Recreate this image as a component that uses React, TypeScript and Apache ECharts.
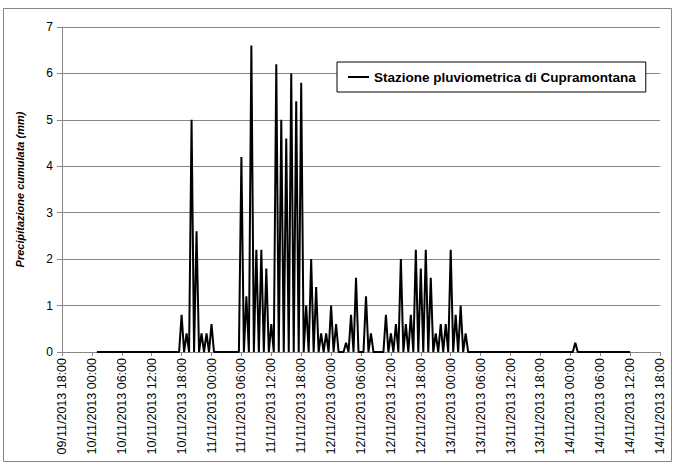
import React, { useEffect, useRef } from "react";
import * as echarts from "echarts";

// Tick labels of the time axis, every 6 hours from 09/11/2013 18:00
const tickLabels = [
  "09/11/2013 18:00",
  "10/11/2013 00:00",
  "10/11/2013 06:00",
  "10/11/2013 12:00",
  "10/11/2013 18:00",
  "11/11/2013 00:00",
  "11/11/2013 06:00",
  "11/11/2013 12:00",
  "11/11/2013 18:00",
  "12/11/2013 00:00",
  "12/11/2013 06:00",
  "12/11/2013 12:00",
  "12/11/2013 18:00",
  "13/11/2013 00:00",
  "13/11/2013 06:00",
  "13/11/2013 12:00",
  "13/11/2013 18:00",
  "14/11/2013 00:00",
  "14/11/2013 06:00",
  "14/11/2013 12:00",
  "14/11/2013 18:00",
];

const seriesName = "Stazione pluviometrica di Cupramontana";
const yAxisName = "Precipitazione cumulata (mm)";

// first reading: 10/11/2013 01:00 (hours after 09/11/2013 18:00), readings every 30 min
const firstReadingHour = 7;
const readingStepHours = 0.5;

// precipitation (mm), half-hourly readings, from 10/11/2013 01:00 to 14/11/2013 12:00
const precipitation = [
  // 10/11 01:00 - 05:30
  0, 0, 0, 0, 0, 0, 0, 0, 0, 0,
  // 10/11 06:00 - 11:30
  0, 0, 0, 0, 0, 0, 0, 0, 0, 0, 0, 0,
  // 10/11 12:00 - 17:30
  0, 0, 0, 0, 0, 0, 0, 0, 0, 0, 0, 0,
  // 10/11 18:00 - 23:30
  0.8, 0, 0.4, 0, 5.0, 0, 2.6, 0, 0.4, 0, 0.4, 0,
  // 11/11 00:00 - 05:30
  0.6, 0, 0, 0, 0, 0, 0, 0, 0, 0, 0, 0,
  // 11/11 06:00 - 11:30
  4.2, 0, 1.2, 0, 6.6, 0, 2.2, 0, 2.2, 0, 1.8, 0,
  // 11/11 12:00 - 17:30
  0.6, 0, 6.2, 0, 5.0, 0, 4.6, 0, 6.0, 0, 5.4, 0,
  // 11/11 18:00 - 23:30
  5.8, 0, 1.0, 0, 2.0, 0, 1.4, 0, 0.4, 0, 0.4, 0,
  // 12/11 00:00 - 05:30
  1.0, 0, 0.6, 0, 0, 0, 0.2, 0, 0.8, 0, 1.6, 0,
  // 12/11 06:00 - 11:30
  0, 0, 1.2, 0, 0.4, 0, 0, 0, 0, 0, 0.8, 0,
  // 12/11 12:00 - 17:30
  0.4, 0, 0.6, 0, 2.0, 0, 0.6, 0, 0.8, 0, 2.2, 0,
  // 12/11 18:00 - 23:30
  1.8, 0, 2.2, 0, 1.6, 0, 0.4, 0, 0.6, 0, 0.6, 0,
  // 13/11 00:00 - 05:30
  2.2, 0, 0.8, 0, 1.0, 0, 0.4, 0, 0, 0, 0, 0,
  // 13/11 06:00 - 11:30
  0, 0, 0, 0, 0, 0, 0, 0, 0, 0, 0, 0,
  // 13/11 12:00 - 17:30
  0, 0, 0, 0, 0, 0, 0, 0, 0, 0, 0, 0,
  // 13/11 18:00 - 23:30
  0, 0, 0, 0, 0, 0, 0, 0, 0, 0, 0, 0,
  // 14/11 00:00 - 05:30
  0, 0, 0.2, 0, 0, 0, 0, 0, 0, 0, 0, 0,
  // 14/11 06:00 - 11:30
  0, 0, 0, 0, 0, 0, 0, 0, 0, 0, 0, 0,
  // 14/11 12:00
  0,
];

const yMin = 0;
const yMax = 7;
const yStep = 1;
const xStepHours = 6;

export default function App() {
  const ref = useRef<HTMLDivElement>(null);

  useEffect(() => {
    document.body.style.margin = "0";
    if (!ref.current) return;
    const chart = echarts.init(ref.current, null, { renderer: "svg" });
    const data = precipitation.map((v, i) => [firstReadingHour + i * readingStepHours, v]);
    const grey = "#868686";
    chart.setOption({
      animation: false,
      backgroundColor: "#ffffff",
      textStyle: { fontFamily: "Liberation Sans" },
      grid: { left: 62, right: 15, top: 27, bottom: 113, containLabel: false },
      xAxis: {
        type: "value",
        min: 0,
        max: (tickLabels.length - 1) * xStepHours,
        interval: xStepHours,
        axisLine: { show: true, lineStyle: { color: grey, width: 1 } },
        axisTick: { show: true, length: 4, lineStyle: { color: grey } },
        splitLine: { show: false },
        axisLabel: {
          rotate: 90,
          margin: 6,
          fontSize: 12.5,
          color: "#000",
          fontFamily: "Liberation Sans",
          formatter: (v: number) => tickLabels[Math.round(v / xStepHours)] ?? "",
        },
      },
      yAxis: {
        type: "value",
        min: yMin,
        max: yMax,
        interval: yStep,
        name: yAxisName,
        nameLocation: "middle",
        nameGap: 37,
        nameTextStyle: {
          fontWeight: "bold",
          fontStyle: "italic",
          fontSize: 11,
          color: "#000",
          fontFamily: "Liberation Sans",
        },
        axisLine: { show: true, lineStyle: { color: grey, width: 1 } },
        axisTick: { show: true, length: 5, lineStyle: { color: grey } },
        splitLine: { show: true, lineStyle: { color: grey, width: 1 } },
        axisLabel: { fontSize: 12, color: "#000", margin: 9, fontFamily: "Liberation Sans" },
      },
      legend: {
        left: 337,
        top: 62,
        orient: "horizontal",
        padding: [8, 10, 8, 11],
        itemWidth: 21,
        itemHeight: 2,
        itemGap: 4,
        borderColor: "#000",
        borderWidth: 1,
        backgroundColor: "#fff",
        data: [{ name: seriesName, icon: "rect" }],
        textStyle: { fontSize: 13.5, fontWeight: "bold", color: "#000", fontFamily: "Liberation Sans" },
      },
      graphic: [
        {
          type: "rect",
          shape: { x: 3.5, y: 8.5, width: 668, height: 453 },
          style: { fill: "none", stroke: grey, lineWidth: 1 },
          z: -1,
          silent: true,
        },
      ],
      series: [
        {
          type: "line",
          name: seriesName,
          data,
          symbol: "none",
          showSymbol: false,
          lineStyle: { color: "#000", width: 2 },
          itemStyle: { color: "#000" },
        },
      ],
    });
    return () => chart.dispose();
  }, []);

  return <div ref={ref} style={{ width: 675, height: 465 }} />;
}
